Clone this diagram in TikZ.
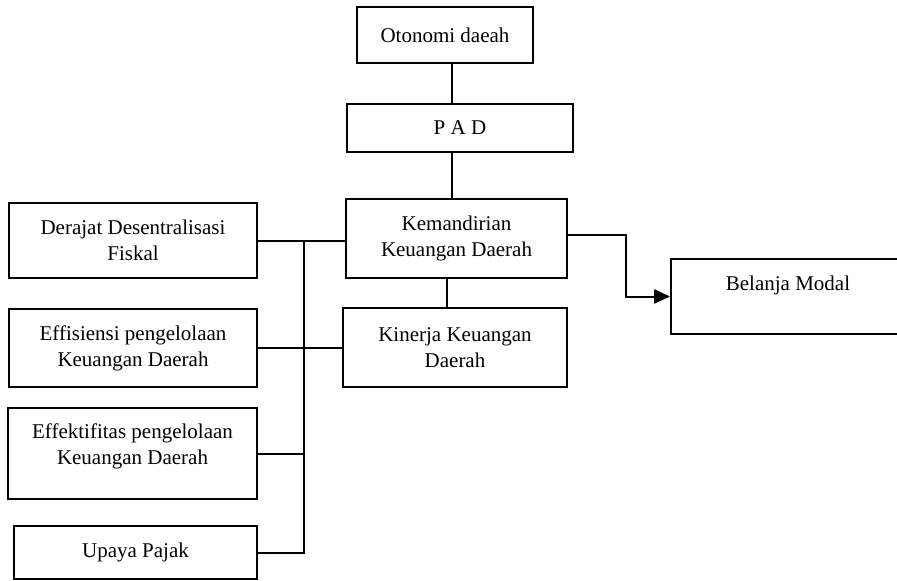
\documentclass[tikz,border=0pt]{standalone}
\usepackage{fontspec}
\setmainfont{Liberation Serif}
\newfontfamily\huruf{Liberation Serif}
\usetikzlibrary{arrows.meta}
\tikzset{
  kotak/.style 2 args={draw, line width=1.8pt, align=center, inner sep=0pt,
    minimum width=#1, minimum height=#2, font=\huruf\fontsize{21}{26}\selectfont},
  garis/.style={line width=2pt}
}

\begin{document}
\begin{tikzpicture}[x=1pt,y=-1pt]
\useasboundingbox (0,0) rectangle (897,581);
% kolom tengah
\node[kotak={176}{56}] (oto) at (445,35) {Otonomi daeah};
\node[kotak={226}{48}] (pad) at (460,128) {P A D};
\node[kotak={221}{79}] (kmd) at (456.5,238.5) {Kemandirian\\Keuangan Daerah};
\node[kotak={224}{79}] (kin) at (455,347.5) {Kinerja Keuangan\\Daerah};
\node[kotak={234}{75}] (blj) at (788,296.5) {Belanja Modal\\[1pt]\mbox{}};
% kolom kiri
\node[kotak={248}{75}] (drj) at (133,240.5) {Derajat Desentralisasi\\Fiskal};
\node[kotak={248}{78}] (efs) at (133,348) {Effisiensi pengelolaan\\Keuangan Daerah};
\node[kotak={249}{91}] (efk) at (132.5,453.5) {Effektifitas pengelolaan\\Keuangan Daerah\\[-7pt]\mbox{}};
\node[kotak={243}{53}] (upy) at (135.5,552.5) {Upaya Pajak};
\coordinate (tulang) at (452,0);
\coordinate (sambung) at (447,0);
\coordinate (bus) at (304,240);
\draw[garis] (oto.south -| tulang) -- (pad.north -| tulang);
\draw[garis] (pad.south -| tulang) -- (kmd.north -| tulang);
\draw[garis] (kmd.south -| sambung) -- (kin.north -| sambung);
\draw[garis] (drj.east) -- (drj.east -| kmd.west);
\draw[garis] (efs.east) -- (efs.east -| kin.west);
\draw[garis] (efk.east) -- (efk.east -| bus);
\draw[garis] (upy.east) -| (bus);
\draw[garis, -{Triangle[length=16pt,width=14pt]}] (kmd.east) ++(0,-4) -- ++(58,0) |- (blj.west);
\end{tikzpicture}
\end{document}
